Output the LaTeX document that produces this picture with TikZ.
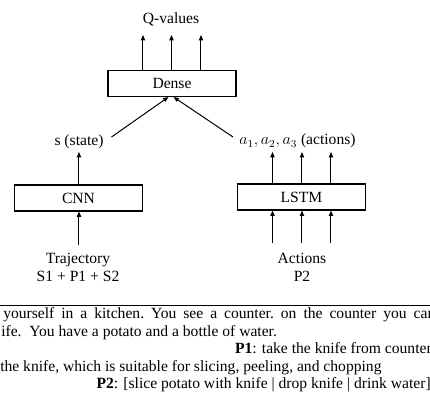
\documentclass[tikz,border=0pt]{standalone}
\usepackage{fontspec}
\setmainfont{Liberation Serif}
\usetikzlibrary{arrows.meta}
\begin{document}
\begin{tikzpicture}[x=0.75pt,y=-0.75pt,
  box/.style={draw,line width=0.8pt,minimum width=96pt,minimum height=19.5pt,inner sep=0pt,font=\fontsize{11.7}{14}\selectfont},
  lbl/.style={inner sep=0pt,font=\fontsize{11.7}{13.5}\selectfont},
  txt/.style={inner sep=0pt,font=\fontsize{11.7}{12}\selectfont},
  arr/.style={line width=0.75pt,-{Triangle[length=4pt,width=3.2pt]}},
  rule/.style={line width=1pt}]
\useasboundingbox (0,0) rectangle (430,410);
\clip (0,0) rectangle (430,410);
% boxes
\node[box] (dense) at (172,83.5) {Dense};
\node[box] (cnn) at (78.5,198) {CNN};
\node[box] (lstm) at (301.5,197) {LSTM};
% labels
\node[lbl] (q) at (171,19) {Q-values};
\node[lbl] (s) at (79,142) {s (state)};
\node[lbl] (a) at (297.5,141) {$a_1, a_2, a_3$ (actions)};
\node[lbl,align=center] (traj) at (78,267) {Trajectory\\S1 + P1 + S2};
\node[lbl,align=center] (act) at (302,267) {Actions\\P2};
% arrow end points
\coordinate (q1) at (143,35);
\coordinate (q2) at (171.5,35);
\coordinate (q3) at (201,35);
\coordinate (sA) at (111.5,137);
\coordinate (dA) at (168.5,97);
\coordinate (aA) at (233,137);
\coordinate (dB) at (173.5,97);
\coordinate (sT) at (79,152);
\coordinate (cB) at (79,245);
\coordinate (l1) at (272.5,152);
\coordinate (l2) at (302,152);
\coordinate (l3) at (331,152);
\coordinate (b1) at (272.5,243);
\coordinate (b2) at (302,243);
\coordinate (b3) at (331,243);
% arrows
\draw[arr] (dense.north -| q1) -- (q1);
\draw[arr] (dense.north -| q2) -- (q2);
\draw[arr] (dense.north -| q3) -- (q3);
\draw[arr] (sA) -- (dA);
\draw[arr] (aA) -- (dB);
\draw[arr] (cnn.north -| sT) -- (sT);
\draw[arr] (cB) -- (cnn.south -| cB);
\draw[arr] (lstm.north -| l1) -- (l1);
\draw[arr] (lstm.north -| l2) -- (l2);
\draw[arr] (lstm.north -| l3) -- (l3);
\draw[arr] (b1) -- (lstm.south -| b1);
\draw[arr] (b2) -- (lstm.south -| b2);
\draw[arr] (b3) -- (lstm.south -| b3);
% separator
\coordinate (rL) at (0,305.5);
\coordinate (rR) at (430,305.5);
\draw[rule] (rL) -- (rR);
% text below
\node[txt,anchor=base west] (t1) at (3,319) {\frenchspacing\makebox[324pt][s]{yourself in a kitchen. You see a counter. on the counter you can}};
\node[txt,anchor=base west] (t2) at (1,336.5) {ife.\ \ You have a potato and a bottle of water.};
\node[txt,anchor=base east] (t3) at (432,354) {\textbf{P1}: take the knife from counter};
\node[txt,anchor=base west] (t4) at (0,371.5) {the knife, which is suitable for slicing, peeling, and chopping};
\node[txt,anchor=base east] (t5) at (431,389) {\textbf{P2}: [slice potato with knife | drop knife | drink water]};
\end{tikzpicture}
\end{document}
